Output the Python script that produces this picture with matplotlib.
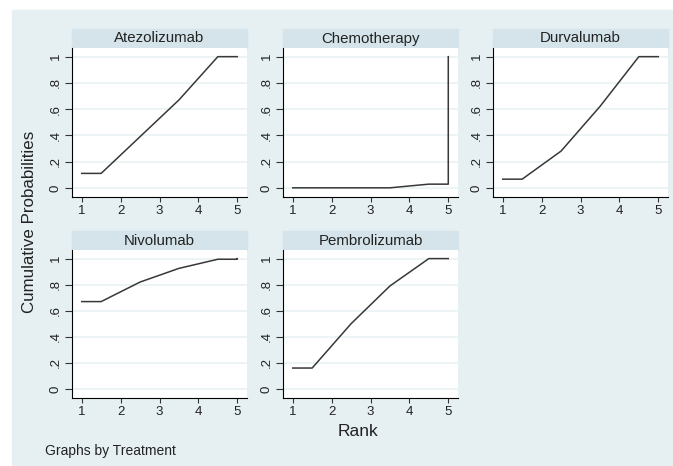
import numpy as np
import matplotlib.pyplot as plt
from matplotlib.patches import Rectangle

plt.rcParams.update({'font.size': 9, 'font.family': 'Liberation Sans'})

# ranks used in the cumulative rankogram (Stata style, half-rank steps)
rank = [1, 1.5, 2.5, 3.5, 4.5, 5]
treatments = ['Atezolizumab', 'Chemotherapy', 'Durvalumab', 'Nivolumab', 'Pembrolizumab']
atezolizumab = [0.11, 0.11, 0.39, 0.67, 1.0, 1.0]
chemotherapy = [0.0, 0.0, 0.0, 0.0, 0.028, 0.028]
durvalumab = [0.066, 0.066, 0.28, 0.62, 1.0, 1.0]
nivolumab = [0.67, 0.67, 0.82, 0.925, 0.995, 0.995]
pembrolizumab = [0.16, 0.16, 0.50, 0.79, 1.0, 1.0]
series = [atezolizumab, chemotherapy, durvalumab, nivolumab, pembrolizumab]

W, H = 673, 466
fig = plt.figure(figsize=(W/100, H/100), dpi=100, facecolor='white')
fig.patches.append(Rectangle((12/W, 0), 1, 1-10/H, transform=fig.transFigure,
                             color='#E6F0F3', zorder=-10))

lefts = [72, 283, 493]
rows = [(48, 197), (250, 398)]
pw = 175

for i, name in enumerate(treatments):
    r, c = divmod(i, 3)
    top, bot = rows[r]
    ax = fig.add_axes([lefts[c]/W, 1-bot/H, pw/W, (bot-top)/H], zorder=1)
    ax.set_facecolor('white')
    y = list(series[i])
    x = list(rank)
    if y[-1] < 1:
        # last rank always reaches 1
        x.append(5)
        y.append(1.0)
    ax.plot(x, y, color='#383838', lw=1.1)
    ax.set_xlim(0.75, 5.25)
    ax.set_ylim(-0.07, 1.066)
    ax.set_xticks([1, 2, 3, 4, 5])
    ax.set_yticks([0, 0.2, 0.4, 0.6, 0.8, 1])
    ax.set_yticklabels(['0', '.2', '.4', '.6', '.8', '1'], rotation=90, va='center')
    for yy in [0, 0.2, 0.4, 0.6, 0.8, 1]:
        ax.axhline(yy, color='#EAF2F5', lw=1.2, zorder=0)
    for s in ['top', 'right']:
        ax.spines[s].set_visible(False)
    ax.spines['left'].set_color('black')
    ax.spines['bottom'].set_color('black')
    ax.tick_params(width=0.8, color='#333333', labelcolor='#222222',
                   labelsize=9.5, pad=2.5)
    ax.tick_params(axis='x', length=3.5)
    ax.tick_params(axis='y', length=5)
    # title strip
    fig.patches.append(Rectangle((lefts[c]/W, 1-top/H), pw/W, 19/H,
                                 transform=fig.transFigure, color='#D5E4EA',
                                 zorder=-5))
    fig.text((lefts[c]+pw/2)/W, 1-(top-9.5)/H, name, ha='center', va='center',
             fontsize=10.8, color='#222222')

fig.text(30/W, 1-222/H, 'Cumulative Probabilities', rotation=90, ha='center',
         va='center', fontsize=12.2, color='#222222')
fig.text(358/W, 1-432/H, 'Rank', ha='center', va='center', fontsize=12.5,
         color='#222222')
fig.text(45/W, 1-451/H, 'Graphs by Treatment', ha='left', va='center',
         fontsize=10, color='#222222')

fig.savefig('out.png', dpi=100)
